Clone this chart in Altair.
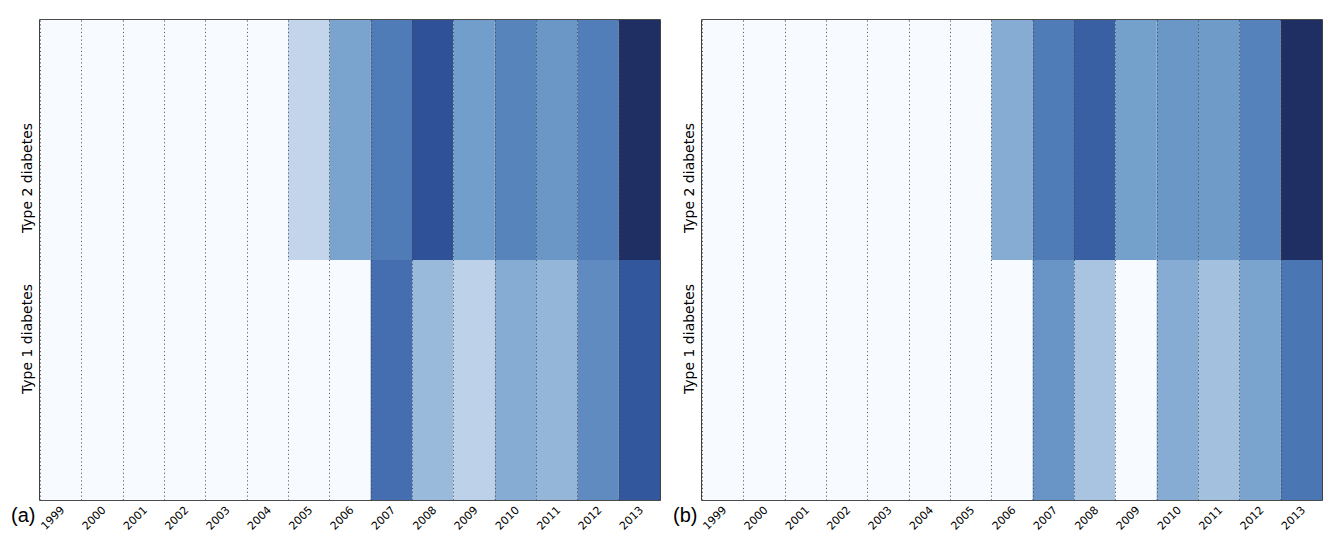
import altair as alt
import pandas as pd

years = ["1999", "2000", "2001", "2002", "2003", "2004", "2005", "2006",
         "2007", "2008", "2009", "2010", "2011", "2012", "2013"]
types = ["Type 2 diabetes", "Type 1 diabetes"]

# relative intensity (0 = none, 1 = highest)
a_type2 = [0, 0, 0, 0, 0, 0, 0.23, 0.48, 0.71, 0.87, 0.51, 0.66, 0.55, 0.70, 1.0]
a_type1 = [0, 0, 0, 0, 0, 0, 0, 0, 0.77, 0.37, 0.25, 0.44, 0.39, 0.62, 0.85]
b_type2 = [0, 0, 0, 0, 0, 0, 0, 0.44, 0.71, 0.82, 0.50, 0.55, 0.53, 0.67, 1.0]
b_type1 = [0, 0, 0, 0, 0, 0, 0, 0, 0.56, 0.32, 0, 0.44, 0.34, 0.48, 0.74]

color_domain = [0, 0.25, 0.5, 0.75, 0.87, 1.0]
color_range = ["#f7fbff", "#bdd2e8", "#74a0cc", "#4874b3", "#2f5198", "#1f2f63"]


def panel(t2, t1, tag):
    rows = []
    for y, v in zip(years, t2):
        rows.append({"year": y, "type": types[0], "value": v})
    for y, v in zip(years, t1):
        rows.append({"year": y, "type": types[1], "value": v})
    df = pd.DataFrame(rows)

    heat = alt.Chart(df).mark_rect(strokeWidth=0).encode(
        x=alt.X("year:O", sort=years, title=None,
                scale=alt.Scale(paddingInner=0, paddingOuter=0),
                axis=alt.Axis(labelAngle=-45, labelAlign="center", labelBaseline="middle",
                              labelPadding=18, labelOffset=-8, labelFontSize=11,
                              labelFont="DejaVu Sans",
                              labelColor="black", tickBand="extent", grid=True,
                              gridColor="#444444", gridDash=[1.2, 2.6], gridWidth=1,
                              gridOpacity=0.85, ticks=False, domain=False, zindex=1)),
        y=alt.Y("type:N", sort=types, title=None,
                scale=alt.Scale(paddingInner=0, paddingOuter=0),
                axis=alt.Axis(labelAngle=-90, labelAlign="center", labelBaseline="bottom",
                              labelPadding=6, labelFontSize=14, labelFont="DejaVu Sans",
                              labelColor="black", ticks=False, domain=False, grid=False,
                              labelOffset=alt.expr(
                                  "datum.value == 'Type 2 diabetes' ? 38 : -41"))),
        color=alt.Color("value:Q", legend=None,
                        scale=alt.Scale(domain=color_domain, range=color_range,
                                        interpolate="rgb")),
    )
    label = alt.Chart(pd.DataFrame({"t": [tag]})).mark_text(
        align="right", baseline="middle", fontSize=20, font="Liberation Sans", color="black"
    ).encode(x=alt.value(-4.5), y=alt.value(496), text="t:N")
    return alt.layer(heat, label).properties(width=620, height=480)


chart = alt.hconcat(
    panel(a_type2, a_type1, "(a)"),
    panel(b_type2, b_type1, "(b)"),
    spacing=11,
).properties(
    padding={"left": 2, "top": 11, "right": 0, "bottom": 0}
).configure(
    background="white",
    view=alt.ViewConfig(stroke="#111111", strokeWidth=1.6),
)

chart.save("out.html", embed_options={"renderer": "svg", "actions": False})
